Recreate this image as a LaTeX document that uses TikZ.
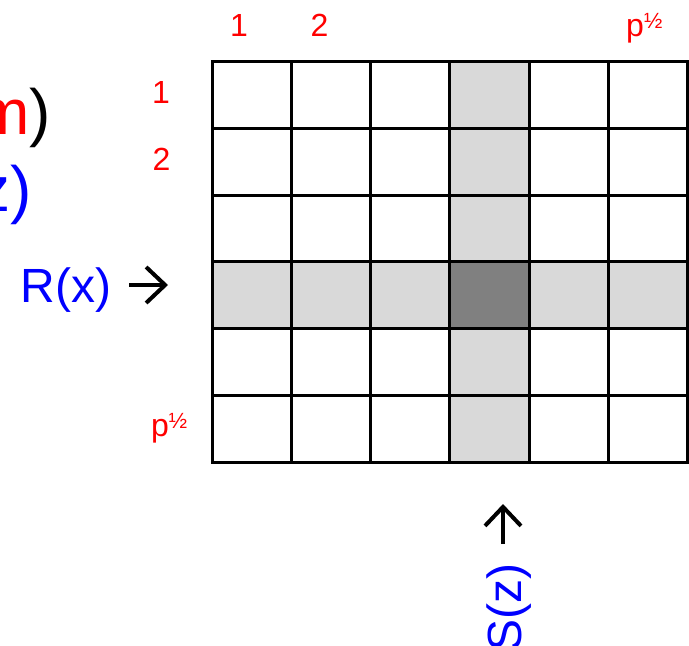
\documentclass[tikz,border=0pt]{standalone}
\usepackage{fontspec}
\setmainfont{Liberation Sans}
\usetikzlibrary{arrows.meta}
\definecolor{lgray}{HTML}{D9D9D9}
\definecolor{dgray}{HTML}{808080}
\newcommand{\phalf}{p\raisebox{8pt}{\fontsize{22}{22}\selectfont ½}}
\begin{document}
\begin{tikzpicture}[x=1pt,y=-1pt,
  gridline/.style={line width=3pt, black},
  lbl/.style={text=red, font=\fontsize{32}{32}\selectfont, inner sep=0pt},
  big/.style={font=\fontsize{64}{64}\selectfont, inner sep=0pt},
  mid/.style={text=blue, font=\fontsize{48}{48}\selectfont, inner sep=0pt},
  pointer/.style={line width=4pt, -{Straight Barb[length=19pt,width=36pt]}}]
\useasboundingbox (0,0) rectangle (689,646);
% shaded column and row
\fill[lgray] (450.5,61.7) rectangle (529.75,462);
\fill[lgray] (212,262.1) rectangle (687.5,328.8);
\fill[dgray] (450.5,262.1) rectangle (529.75,328.8);
% grid
\foreach \i in {1,...,5} {
  \draw[gridline] ({212+\i*79.25},61.7) -- ({212+\i*79.25},462);
  \draw[gridline] (212,{61.7+\i*66.72}) -- (687.5,{61.7+\i*66.72});
}
\draw[gridline] (212,61.7) rectangle (687.5,462);
% cropped large text
\node[big, anchor=base east] (m) at (51.5,134.5) {\textcolor{red}{m})};
\node[big, anchor=base east, text=blue] (z) at (32.5,211.5) {z)};
% labels
\node[mid, anchor=base west] (R) at (20.2,302) {R(x)};
\node[mid, rotate=90, anchor=base east] (S) at (521,563) {S(z)};
\node[lbl, anchor=base] (c1) at (239,36) {1};
\node[lbl, anchor=base] (c2) at (319.5,36) {2};
\node[lbl, anchor=base west] (cp) at (626,36) {\phalf};
\node[lbl, anchor=base] (r1) at (161,103) {1};
\node[lbl, anchor=base] (r2) at (161.5,170) {2};
\node[lbl, anchor=base west] (rp) at (151,436) {\phalf};
% arrows
\coordinate (ra) at (129,285);
\coordinate (rb) at (168,285);
\draw[pointer] (ra) -- (rb);
\coordinate (ua) at (503,544);
\coordinate (ub) at (503,504);
\draw[pointer] (ua) -- (ub);
\end{tikzpicture}
\end{document}
